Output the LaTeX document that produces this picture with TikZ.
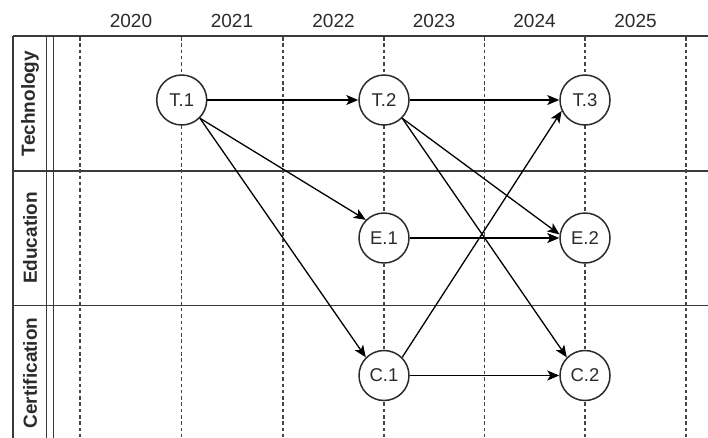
\documentclass[tikz,border=0pt]{standalone}
\usepackage{fontspec}
\setmainfont{Liberation Sans}
\usetikzlibrary{arrows.meta}
\definecolor{ink}{HTML}{2B2B2B}
\definecolor{frameclr}{HTML}{3A3A3A}
\definecolor{guide}{HTML}{444444}
\begin{document}
\begin{tikzpicture}[x=1pt,y=-1pt,
  frameline/.style={draw=frameclr,line width=1.5pt},
  guideline/.style={draw=guide,line width=1.3pt,dash pattern=on 3.5pt off 2.8pt},
  yearlabel/.style={text=ink,font=\fontsize{19}{22}\selectfont},
  lanelabel/.style={text=ink,font=\bfseries\fontsize{19}{22}\selectfont,rotate=90},
  event/.style={circle,draw=ink,fill=white,line width=1.5pt,minimum size=50pt,inner sep=0pt,
    text=ink,font=\fontsize{18.5}{22}\selectfont},
  link/.style={draw=black,line width=1.3pt,-{Stealth[length=12pt,width=10pt,inset=3pt]}}]
\useasboundingbox (0,0) rectangle (708,437);
\clip (0,0) rectangle (708,437);
\fill[white] (0,0) rectangle (708,437);

% lane frame
\draw[frameline] (13,36) -- (708,36);
\draw[frameline] (13,171) -- (708,171);
\draw[frameline] (13,305.5) -- (708,305.5);
\draw[frameline] (13,36) -- (13,445);
\draw[frameline] (46.7,36) -- (46.7,445);
\draw[frameline] (53.3,36) -- (53.3,445);

% lane titles
\node[lanelabel] (lT) at (30,103.5) {Technology};
\node[lanelabel] (lE) at (30,238) {Education};
\node[lanelabel] (lC) at (30,373) {Certification};

% year guides
\foreach \gx in {80,181.7,283,384,484.5,585,686}
  \draw[guideline] (\gx,37) -- (\gx,445);

% years
\node[yearlabel] (y0) at (131,21) {2020};
\node[yearlabel] (y1) at (232,21) {2021};
\node[yearlabel] (y2) at (333.5,21) {2022};
\node[yearlabel] (y3) at (434,21) {2023};
\node[yearlabel] (y4) at (534.5,21) {2024};
\node[yearlabel] (y5) at (635.5,21) {2025};

% events
\node[event] (T1) at (181.7,100) {T.1};
\node[event] (T2) at (384,100) {T.2};
\node[event] (T3) at (585,100) {T.3};
\node[event] (E1) at (384,238) {E.1};
\node[event] (E2) at (585,238) {E.2};
\node[event] (C1) at (384,375.5) {C.1};
\node[event] (C2) at (585,375.5) {C.2};

% dependencies
\draw[link] (T1.east) -- (T2.west);
\draw[link] (T1.-45) -- (E1.135);
\draw[link] (T1.-45) -- (C1.135);
\draw[link] (T2.east) -- (T3.west);
\draw[link] (T2.-45) -- (E2.172);
\draw[link] (T2.-45) -- (C2.135);
\draw[link] (E1.east) -- (E2.west);
\draw[link] (C1.45) -- (T3.205);
\draw[link] (C1.east) -- (C2.west);
\end{tikzpicture}
\end{document}
